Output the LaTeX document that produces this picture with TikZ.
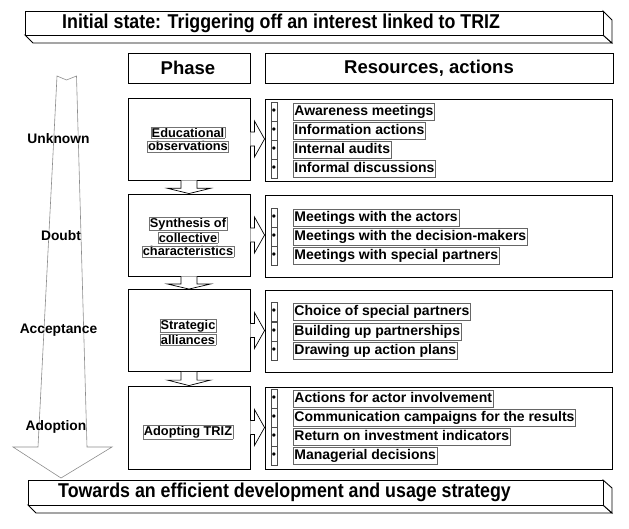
\documentclass[tikz,border=0pt]{standalone}
\usepackage{fontspec}
\setmainfont{Liberation Sans}
\newfontfamily\bannerfont[FakeStretch=0.89]{Liberation Sans}
\usetikzlibrary{calc}
\newcommand\myfs[1]{\fontsize{#1}{#1}\selectfont}
\newcommand\fl[1]{{\color{black!55}\fboxrule=0.4pt\fboxsep=0.6pt\fbox{\color{black}#1}}}
\begin{document}
\begin{tikzpicture}[x=1pt,y=-1pt,
  frame/.style={draw=black, line width=0.9pt, fill=white, line join=miter},
  phasebox/.style={draw, line width=0.9pt, minimum width=122pt, minimum height=82pt, inner sep=0pt},
  phasetext/.style={font=\fontsize{12.8}{13.8}\selectfont\bfseries, align=center, inner sep=0pt},
  resbox/.style={draw, line width=0.9pt, minimum width=347pt, minimum height=82pt, inner sep=0pt},
  header/.style={draw, line width=0.9pt, minimum height=30pt, inner sep=0pt},
  headtext/.style={font=\myfs{18.5}\bfseries, inner sep=0pt},
  bantext/.style={font=\bannerfont\bfseries\myfs{20}, anchor=west, inner sep=0pt},
  stage/.style={font=\myfs{13.8}\bfseries, inner sep=0pt},
  item/.style={draw=black!60, line width=0.4pt, font=\myfs{14}\bfseries, anchor=west, inner xsep=1.2pt, inner ysep=1.6pt, text height=10.6pt, text depth=3.2pt},
  bul/.style={draw=black!70, line width=0.4pt, minimum width=6pt, minimum height=19pt, inner sep=0pt, font=\myfs{12}},
  blk/.style={draw, line width=0.7pt, fill=white, line join=miter},
  bigarrow/.style={draw=black!45, line width=0.6pt, line join=miter}
]
\useasboundingbox (0,0) rectangle (629,528);

% big progression arrow on the left
\draw[bigarrow] (57,76) -- (66.5,80) -- (76.5,76) -- (87,447) -- (112,447) -- (61,478) -- (13,447) -- (38,447) -- cycle;

% top banner
\draw[frame] (25,35) -- (33,43) -- (612,43) -- (603,35) -- cycle;
\draw[frame] (603,11) -- (612,20) -- (612,43) -- (603,35) -- cycle;
\draw[frame] (25,11) rectangle (603,35);
\node[bantext] (init) at (62,23.5) {Initial state: Triggering off an interest linked to TRIZ};

% bottom banner
\draw[frame] (28,505) -- (36,513) -- (612,513) -- (603,505) -- cycle;
\draw[frame] (603,480) -- (612,488) -- (612,513) -- (603,505) -- cycle;
\draw[frame] (28,480) rectangle (603,505);
\node[bantext] (final) at (58,492.5) {Towards an efficient development and usage strategy};

% headers
\node[header, minimum width=122pt] (ph) at (189,68) {};
\node[headtext] (pht) at (188,68) {Phase};
\node[header, minimum width=348pt] (rh) at (439,68) {};
\node[headtext] (rht) at (429,68) {Resources, actions};

% phase boxes
\node[phasebox] (p1) at (189,139) {};
\node[phasebox] (p2) at (189,235) {};
\node[phasebox] (p3) at (189,330.5) {};
\node[phasebox, minimum height=83pt] (p4) at (189,427.5) {};
\node[phasetext] (p1t) at (188,139.5) {\fl{Educational}\\\fl{observations}};
\node[phasetext] (p2t) at (188,237) {\fl{Synthesis of}\\\fl{collective}\\\fl{characteristics}};
\node[phasetext] (p3t) at (188,332) {\fl{Strategic}\\\fl{alliances}};
\node[phasetext] (p4t) at (188,432) {\fl{Adopting TRIZ}};

% resource boxes
\node[resbox] (r1) at (438.5,140) {};
\node[resbox] (r2) at (438.5,236) {};
\node[resbox] (r3) at (438.5,331) {};
\node[resbox] (r4) at (438.5,428) {};

% stage labels
\node[stage] (s1) at (58.5,139) {Unknown};
\node[stage] (s2) at (61,236) {Doubt};
\node[stage] (s3) at (58.5,330) {Acceptance};
\node[stage] (s4) at (56,427) {Adoption};

% down arrows between phases
\foreach \a/\b in {p1/p2,p2/p3,p3/p4}{
  \draw[blk] ($(\a.south)+(-8,0)$) -- ($(\a.south)!0.6!(\b.north)+(-8,0)$) -- ++(-13.5,0)
    -- (\b.north) -- ($(\a.south)!0.6!(\b.north)+(21.5,0)$) -- ++(-13.5,0) -- ($(\a.south)+(8,0)$);
}

% right arrows phase -> resources
\foreach \i in {1,2,3,4}{
  \draw[blk] ($(p\i.east)+(0,-7)$) -- ++(4,0) -- ++(0,-11) -- (r\i.west |- p\i.east)
    -- ($(p\i.east)+(4,18)$) -- ++(0,-11) -- ++(-4,0);
}

% items, box 1
\node[bul] (b11) at (274,111.5) {\textbullet};
\node[bul] (b12) at (274,130.7) {\textbullet};
\node[bul] (b13) at (274,149.9) {\textbullet};
\node[bul] (b14) at (274,169.1) {\textbullet};
\node[item] (t11) at (293,111.5) {Awareness meetings};
\node[item] (t12) at (293,130.7) {Information actions};
\node[item] (t13) at (293,149.9) {Internal audits};
\node[item] (t14) at (293,169.1) {Informal discussions};

% items, box 2
\node[bul] (b21) at (274,217.5) {\textbullet};
\node[bul] (b22) at (274,236.5) {\textbullet};
\node[bul] (b23) at (274,255.5) {\textbullet};
\node[item] (t21) at (293,217.5) {Meetings with the actors};
\node[item] (t22) at (293,236.5) {Meetings with the decision-makers};
\node[item] (t23) at (293,255.5) {Meetings with special partners};

% items, box 3
\node[bul] (b31) at (274,312) {\textbullet};
\node[bul] (b32) at (274,331.5) {\textbullet};
\node[bul] (b33) at (274,351) {\textbullet};
\node[item] (t31) at (293,312) {Choice of special partners};
\node[item] (t32) at (293,331.5) {Building up partnerships};
\node[item] (t33) at (293,351) {Drawing up action plans};

% items, box 4
\node[bul] (b41) at (274,398.5) {\textbullet};
\node[bul] (b42) at (274,417.7) {\textbullet};
\node[bul] (b43) at (274,436.9) {\textbullet};
\node[bul] (b44) at (274,456.1) {\textbullet};
\node[item] (t41) at (293,398.5) {Actions for actor involvement};
\node[item] (t42) at (293,417.7) {Communication campaigns for the results};
\node[item] (t43) at (293,436.9) {Return on investment indicators};
\node[item] (t44) at (293,456.1) {Managerial decisions};
\end{tikzpicture}
\end{document}
